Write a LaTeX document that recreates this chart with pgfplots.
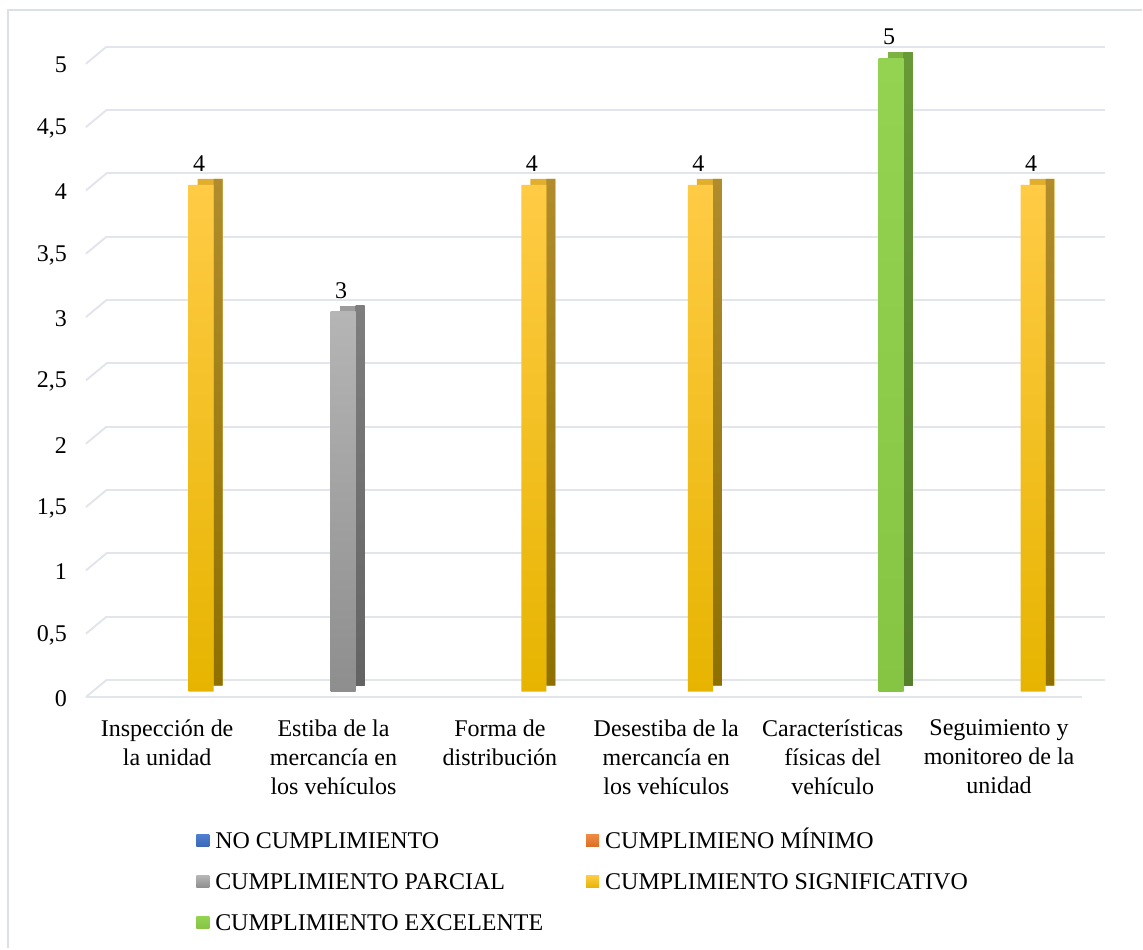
\documentclass[border=0pt]{standalone}
\usepackage{fontspec}
\setmainfont{Liberation Serif}
\usepackage{pgfplots}
\usepackage{pgfplotstable}
\pgfplotsset{compat=1.18}

\definecolor{gridc}{HTML}{E2E5EB}
\definecolor{framec}{HTML}{DCE1E8}
\definecolor{goldT}{HTML}{FFCB45}
\definecolor{goldB}{HTML}{E6B400}
\definecolor{goldS1}{HTML}{B08C2C}
\definecolor{goldS2}{HTML}{8E7000}
\definecolor{goldTop}{HTML}{E2AE2E}
\definecolor{grayT}{HTML}{B5B5B5}
\definecolor{grayB}{HTML}{8E8E8E}
\definecolor{grayS1}{HTML}{7E7E7E}
\definecolor{grayS2}{HTML}{636363}
\definecolor{grayTop}{HTML}{9C9C9C}
\definecolor{greenT}{HTML}{94D352}
\definecolor{greenB}{HTML}{86C443}
\definecolor{greenS1}{HTML}{679A36}
\definecolor{greenS2}{HTML}{557F2B}
\definecolor{greenTop}{HTML}{7DB243}
\definecolor{blueT}{HTML}{4F7FD0}
\definecolor{blueB}{HTML}{3A66B5}
\definecolor{orangeT}{HTML}{F08A42}
\definecolor{orangeB}{HTML}{D96F24}

% category index, value
\pgfplotstableread{
x y
1 3
}\parcial
\pgfplotstableread{
x y
0 4
2 4
3 4
5 4
}\significativo
\pgfplotstableread{
x y
4 5
}\excelente

\begin{document}
\begin{tikzpicture}
\begin{axis}[
  at={(0,0)}, anchor=south west,
  scale only axis, width=499.5pt, height=316.85pt,
  xmin=-0.5, xmax=5.5, ymin=0, ymax=5,
  clip=false,
  axis line style={draw=none}, tick style={draw=none},
  xtick={0,1,2,3,4,5},
  xticklabels={{Inspección de\\la unidad},{Estiba de la\\mercancía en\\los vehículos},{Forma de\\distribución},{Desestiba de la\\mercancía en\\los vehículos},{Características\\físicas del\\vehículo},{Seguimiento y\\monitoreo de la\\unidad}},
  ytick={0,0.5,1,1.5,2,2.5,3,3.5,4,4.5,5},
  /pgf/number format/use comma,
  /pgf/number format/assume math mode=true,
  tick label style={font=\fontsize{12}{14.5}\selectfont},
  yticklabel style={xshift=-5pt, yshift=-3.5pt},
  xticklabel style={align=center, yshift=-10.5pt},
  ymajorgrids,
  major grid style={draw=gridc, line width=1pt, xshift=11.25pt, yshift=5.75pt},
  legend columns=2,
  legend cell align=left,
  legend image code/.code={\path[#1] (0pt,-2pt) rectangle (6.5pt,4pt);},
  legend style={draw=none, fill=none, at={(0.1121,-0.2215)}, anchor=north west,
    inner sep=0pt, font=\fontsize{12}{14.5}\selectfont, row sep=10pt,
    nodes={inner sep=0pt, text height=8pt, text depth=2.5pt},
    /tikz/column 1/.style={column sep=3pt},
    /tikz/column 2/.style={column sep=21.5pt},
    /tikz/column 3/.style={column sep=3pt}},
  every node near coord/.append style={font=\fontsize{12}{14.5}\selectfont, yshift=3pt, text=black},
]
% left perspective stubs and front floor line
\pgfplotsinvokeforeach{0,0.5,1,1.5,2,2.5,3,3.5,4,4.5,5}{
  \draw[gridc, line width=1pt] ([xshift=1pt,yshift=-2.75pt]axis cs:-0.5,#1) -- ([xshift=11.25pt,yshift=5.75pt]axis cs:-0.5,#1);
}
\draw[gridc, line width=1pt] ([xshift=1pt,yshift=-2.75pt]axis cs:-0.5,0) -- ([yshift=-2.75pt]axis cs:5.5,0);

\addlegendimage{top color=blueT, bottom color=blueB, draw=none}
\addlegendentry{NO CUMPLIMIENTO}
\addlegendimage{top color=orangeT, bottom color=orangeB, draw=none}
\addlegendentry{CUMPLIMIENO MÍNIMO}
\addlegendimage{top color=grayT, bottom color=grayB, draw=none}
\addlegendentry{CUMPLIMIENTO PARCIAL}
\addlegendimage{top color=goldT, bottom color=goldB, draw=none}
\addlegendentry{CUMPLIMIENTO SIGNIFICATIVO}
\addlegendimage{top color=greenT, bottom color=greenB, draw=none}
\addlegendentry{CUMPLIMIENTO EXCELENTE}

% CUMPLIMIENTO PARCIAL (gray)
\addplot[ybar, forget plot, draw=none, fill=grayTop, bar width=12.5pt, bar shift=9.25pt, yshift=3pt] table {\parcial};
\addplot[ybar, forget plot, draw=none, top color=grayS1, bottom color=grayS2, bar width=4.5pt, bar shift=13.25pt, yshift=3pt] table {\parcial};
\addplot[ybar, forget plot, draw=none, top color=grayT, bottom color=grayB, bar width=12.5pt, bar shift=4.75pt, nodes near coords, every node near coord/.append style={xshift=3.75pt}] table {\parcial};

% CUMPLIMIENTO SIGNIFICATIVO (gold)
\addplot[ybar, forget plot, draw=none, fill=goldTop, bar width=12.5pt, bar shift=21.5pt, yshift=3pt] table {\significativo};
\addplot[ybar, forget plot, draw=none, top color=goldS1, bottom color=goldS2, bar width=4.5pt, bar shift=25.5pt, yshift=3pt] table {\significativo};
\addplot[ybar, forget plot, draw=none, top color=goldT, bottom color=goldB, bar width=12.5pt, bar shift=17pt, nodes near coords, every node near coord/.append style={xshift=16pt}] table {\significativo};

% CUMPLIMIENTO EXCELENTE (green)
\addplot[ybar, forget plot, draw=none, fill=greenTop, bar width=12.5pt, bar shift=33.75pt, yshift=3pt] table {\excelente};
\addplot[ybar, forget plot, draw=none, top color=greenS1, bottom color=greenS2, bar width=4.5pt, bar shift=37.75pt, yshift=3pt] table {\excelente};
\addplot[ybar, forget plot, draw=none, top color=greenT, bottom color=greenB, bar width=12.5pt, bar shift=29.25pt, nodes near coords, every node near coord/.append style={xshift=28.25pt}] table {\excelente};
\end{axis}
\pgfresetboundingbox
\path (-42pt,-128.5pt) rectangle (529.5pt,346pt);
\draw[framec, line width=0.75pt] (-38pt,-128.5pt) -- (-38pt,341pt) -- (529.5pt,341pt);
\end{tikzpicture}
\end{document}
